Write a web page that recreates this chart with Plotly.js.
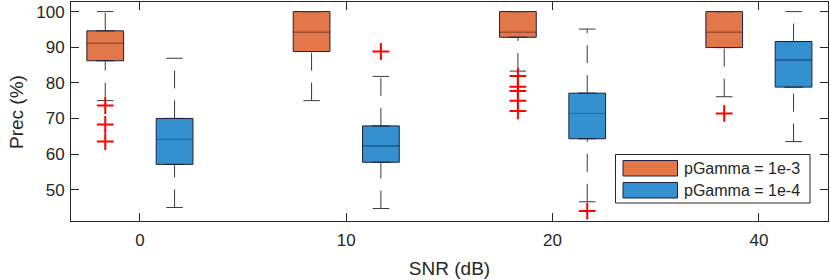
<!DOCTYPE html>
<html>
<head>
<meta charset="utf-8">
<script src="https://cdn.plot.ly/plotly-3.0.1.min.js"></script>
<style>html,body{margin:0;padding:0;background:#fff}#chart{width:830px;height:280px}</style>
</head>
<body>
<div id="chart"></div>
<script>
// ---- data ----
const snrLabels = ['0', '10', '20', '40'];
const seriesNames = ['pGamma = 1e-3', 'pGamma = 1e-4'];

// pGamma = 1e-3
const aQ1  = [86.2, 88.8, 92.8, 89.9];
const aMed = [91.1, 94.2, 94.2, 94.2];
const aQ3  = [94.6, 100.0, 100.0, 100.0];
const aLo  = [75.0, 75.0, 83.3, 76.1];
const aHi  = [100.0, 100.0, 100.0, 100.0];
const aOut = [[73.6, 68.3, 63.5], [], [81.9, 78.9, 77.7, 75.0, 72.1], [71.4]];

// pGamma = 1e-4
const bQ1  = [57.1, 57.7, 64.3, 78.8];
const bMed = [64.1, 62.3, 71.4, 86.4];
const bQ3  = [70.0, 67.9, 77.1, 91.6];
const bLo  = [45.0, 44.7, 46.6, 63.5];
const bHi  = [86.9, 81.8, 95.1, 100.0];
const bOut = [[], [88.8], [44.0], []];

// ---- styling ----
const fills   = ['#E2784A', '#3590CF'];
const medCols = ['#BF5A2E', '#2470AD'];
const edge = '#1d2140';
const whisk = '#3a3a3a';
const offset = 0.168, boxW = 0.178, capHalf = 0.04;
const font = 'Liberation Sans, Arial, Helvetica, sans-serif';

const idx = snrLabels.map((_, i) => i + 1);
const series = [
  {q1: aQ1, med: aMed, q3: aQ3, lo: aLo, hi: aHi, out: aOut, dx: -offset},
  {q1: bQ1, med: bMed, q3: bQ3, lo: bLo, hi: bHi, out: bOut, dx: offset}
];

const traces = [];
series.forEach((s, k) => {
  const pos = idx.map(v => v + s.dx);
  // whiskers (dashed): q3 -> hi, lo -> q1
  const wx = [], wy = [];
  pos.forEach((p, i) => {
    wx.push(p, p, null, p, p, null);
    wy.push(s.q3[i], s.hi[i], null, s.lo[i], s.q1[i], null);
  });
  traces.push({type: 'scatter', mode: 'lines', x: wx, y: wy, hoverinfo: 'skip',
    line: {color: whisk, width: 1, dash: '18px,12px'}, showlegend: false});
  // caps
  const cx = [], cy = [];
  pos.forEach((p, i) => {
    cx.push(p - capHalf, p + capHalf, null, p - capHalf, p + capHalf, null);
    cy.push(s.hi[i], s.hi[i], null, s.lo[i], s.lo[i], null);
  });
  traces.push({type: 'scatter', mode: 'lines', x: cx, y: cy, hoverinfo: 'skip',
    line: {color: whisk, width: 1}, showlegend: false});
  // boxes
  traces.push({type: 'box', name: seriesNames[k], x: pos, q1: s.q1, median: s.med, q3: s.q3,
    lowerfence: s.q1, upperfence: s.q3, width: boxW, fillcolor: fills[k],
    line: {color: edge, width: 1}, boxpoints: false, showlegend: false});
  // medians
  const mx = [], my = [];
  pos.forEach((p, i) => {
    mx.push(p - boxW / 2 + 0.004, p + boxW / 2 - 0.004, null);
    my.push(s.med[i], s.med[i], null);
  });
  traces.push({type: 'scatter', mode: 'lines', x: mx, y: my, hoverinfo: 'skip',
    line: {color: medCols[k], width: 1}, showlegend: false});
  // outliers
  const ox = [], oy = [];
  pos.forEach((p, i) => s.out[i].forEach(v => { ox.push(p); oy.push(v); }));
  traces.push({type: 'scatter', mode: 'markers', x: ox, y: oy,
    marker: {symbol: 'cross-thin', size: 12, line: {color: '#FF0000', width: 2}},
    showlegend: false});
});

// manual MATLAB-style legend
const W = 830, H = 280, mL = 71, mR = 2, mT = 2, mB = 59;
const pw = W - mL - mR, ph = H - mT - mB;
const px = v => (v - mL) / pw;
const py = v => 1 - (v - mT) / ph;
const shapes = [
  {type: 'rect', xref: 'paper', yref: 'paper', x0: px(615.5), x1: px(810), y0: py(203), y1: py(154.5),
   line: {color: '#262626', width: 1}, fillcolor: '#ffffff', layer: 'above'},
  {type: 'rect', xref: 'paper', yref: 'paper', x0: px(623), x1: px(677.5), y0: py(176), y1: py(160.5),
   line: {color: edge, width: 1}, fillcolor: fills[0], layer: 'above'},
  {type: 'rect', xref: 'paper', yref: 'paper', x0: px(623), x1: px(677.5), y0: py(198), y1: py(182.5),
   line: {color: edge, width: 1}, fillcolor: fills[1], layer: 'above'}
];
const annotations = seriesNames.map((t, k) => ({
  xref: 'paper', yref: 'paper', x: px(682), y: py(k === 0 ? 168 : 190.5),
  xanchor: 'left', yanchor: 'middle', showarrow: false, text: t,
  font: {family: font, size: 16, color: '#262626'}
}));
// y-axis title placed like MATLAB's
annotations.push({
  xref: 'paper', yref: 'paper', x: px(16), y: py(112), xanchor: 'center', yanchor: 'middle',
  textangle: -90, showarrow: false, text: 'Prec (%)',
  font: {family: font, size: 19, color: '#262626'}
});

const axisCommon = {
  showline: true, mirror: 'ticks', linecolor: '#262626', linewidth: 1,
  ticks: 'inside', ticklen: 8, tickcolor: '#262626', tickwidth: 1,
  showgrid: false, zeroline: false,
  tickfont: {family: font, size: 17, color: '#262626'}
};

const layout = {
  width: W, height: H,
  margin: {l: mL, r: mR, t: mT, b: mB},
  paper_bgcolor: '#ffffff', plot_bgcolor: '#ffffff',
  showlegend: false,
  xaxis: Object.assign({}, axisCommon, {
    range: [0.666, 4.335], tickvals: idx, ticktext: snrLabels, ticklabelstandoff: 4,
    title: {text: 'SNR (dB)', font: {family: font, size: 19, color: '#262626'}, standoff: 12}
  }),
  yaxis: Object.assign({}, axisCommon, {
    range: [41.2, 102.7], tickvals: [50, 60, 70, 80, 90, 100], ticklabelstandoff: 2
  }),
  shapes: shapes, annotations: annotations
};

Plotly.newPlot('chart', traces, layout, {staticPlot: true, displayModeBar: false});
</script>
</body>
</html>
